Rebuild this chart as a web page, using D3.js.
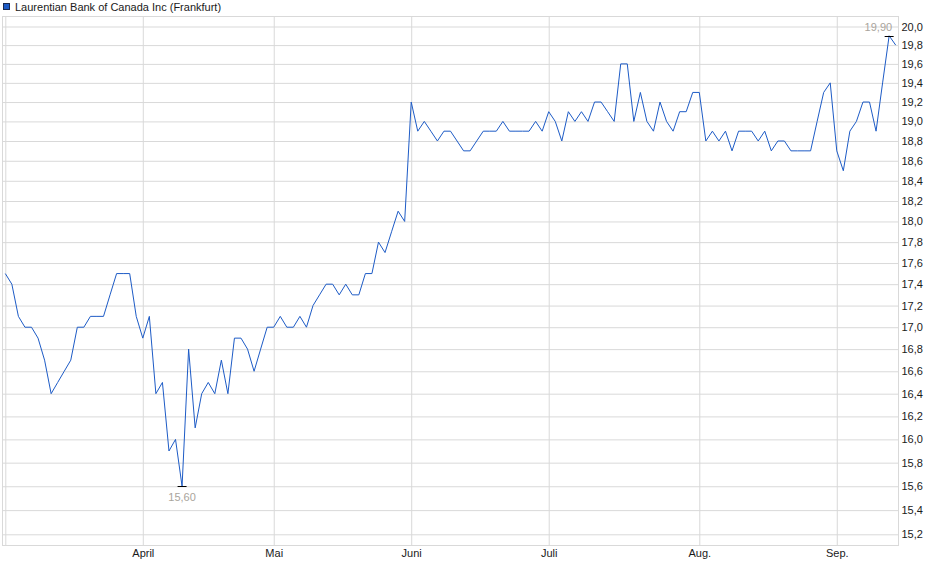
<!DOCTYPE html>
<html>
<head>
<meta charset="utf-8">
<script src="https://cdn.jsdelivr.net/npm/d3@7"></script>
<style>
  body { margin: 0; background: #fff; }
  svg { display: block; font-family: "Liberation Sans", Arial, sans-serif; }
</style>
</head>
<body>
<svg id="chart"></svg>
<script>
// Kurse (EUR) je Handelstag, Mitte März bis Mitte September
const prices = [
  17.5, 17.4, 17.1, 17.0, 17.0, 16.9, 16.7, 16.4, 16.5, 16.6,
  16.7, 17.0, 17.0, 17.1, 17.1, 17.1, 17.3, 17.5, 17.5, 17.5,
  17.1, 16.9, 17.1, 16.4, 16.5, 15.9, 16.0, 15.6, 16.8, 16.1,
  16.4, 16.5, 16.4, 16.7, 16.4, 16.9, 16.9, 16.8, 16.6, 16.8,
  17.0, 17.0, 17.1, 17.0, 17.0, 17.1, 17.0, 17.2, 17.3, 17.4,
  17.4, 17.3, 17.4, 17.3, 17.3, 17.5, 17.5, 17.8, 17.7, 17.9,
  18.1, 18.0, 19.2, 18.9, 19.0, 18.9, 18.8, 18.9, 18.9, 18.8,
  18.7, 18.7, 18.8, 18.9, 18.9, 18.9, 19.0, 18.9, 18.9, 18.9,
  18.9, 19.0, 18.9, 19.1, 19.0, 18.8, 19.1, 19.0, 19.1, 19.0,
  19.2, 19.2, 19.1, 19.0, 19.6, 19.6, 19.0, 19.3, 19.0, 18.9,
  19.2, 19.0, 18.9, 19.1, 19.1, 19.3, 19.3, 18.8, 18.9, 18.8,
  18.9, 18.7, 18.9, 18.9, 18.9, 18.8, 18.9, 18.7, 18.8, 18.8,
  18.7, 18.7, 18.7, 18.7, 19.0, 19.3, 19.4, 18.7, 18.5, 18.9,
  19.0, 19.2, 19.2, 18.9, 19.4, 19.9, 19.8
];

// erster Handelstag jedes Monats (Index in prices)
const monthIndex = [0, 21, 41, 62, 83, 106, 127];
const monthLabels = ["", "April", "Mai", "Juni", "Juli", "Aug.", "Sep."];

const yTicks = [20.0, 19.8, 19.6, 19.4, 19.2, 19.0, 18.8, 18.6, 18.4, 18.2, 18.0,
  17.8, 17.6, 17.4, 17.2, 17.0, 16.8, 16.6, 16.4, 16.2, 16.0, 15.8, 15.6, 15.4, 15.2];

const title = "Laurentian Bank of Canada Inc (Frankfurt)";

const width = 940, height = 579;
const plot = { left: 2.5, right: 898.5, top: 16.5, bottom: 545.5 };
const gridColor = "#d9d9d9";
const lineColor = "#1d5bc6";
const fmt = v => d3.format(".1f")(v).replace(".", ",");
const fmt2 = v => d3.format(".2f")(v).replace(".", ",");

const svg = d3.select("#chart").attr("width", width).attr("height", height);

const x = d3.scaleLinear()
  .domain([0, prices.length - 1])
  .range([5.3, 895.7]);

// logarithmische Kursachse
const y = d3.scaleLog()
  .domain([15.2, 20.0])
  .range([534.3, 26.5]);

// Rahmen
svg.append("rect")
  .attr("x", plot.left).attr("y", plot.top)
  .attr("width", plot.right - plot.left).attr("height", plot.bottom - plot.top)
  .attr("fill", "none").attr("stroke", gridColor);

// y-Achse rechts mit Gitter
const yAxis = svg.append("g")
  .attr("transform", `translate(${plot.right},0)`)
  .call(d3.axisRight(y)
    .tickValues(yTicks)
    .tickSize(-(plot.right - plot.left))
    .tickPadding(3)
    .tickFormat(fmt));
yAxis.select(".domain").remove();
yAxis.selectAll(".tick line").attr("stroke", gridColor);
yAxis.selectAll(".tick text")
  .attr("fill", "#1a1a1a")
  .style("font-size", "11px")
  .style("font-family", '"Liberation Sans", Arial, sans-serif');

// x-Achse mit Monatslinien
const xAxis = svg.append("g")
  .attr("transform", `translate(0,${plot.bottom})`)
  .call(d3.axisBottom(x)
    .tickValues(monthIndex)
    .tickSize(-(plot.bottom - plot.top))
    .tickPadding(4)
    .tickFormat((d, i) => monthLabels[i]));
xAxis.select(".domain").remove();
xAxis.selectAll(".tick line").attr("stroke", gridColor);
xAxis.selectAll(".tick text")
  .attr("fill", "#1a1a1a")
  .style("font-size", "11px")
  .style("font-family", '"Liberation Sans", Arial, sans-serif');

// Kurslinie
const line = d3.line()
  .x((d, i) => x(i))
  .y(d => y(d));

svg.append("path")
  .datum(prices)
  .attr("fill", "none")
  .attr("stroke", lineColor)
  .attr("stroke-width", 1)
  .attr("d", line);

// Tief- und Hochpunkt
const minVal = d3.min(prices), maxVal = d3.max(prices);
const minIdx = prices.indexOf(minVal), maxIdx = prices.indexOf(maxVal);

svg.append("line")
  .attr("x1", x(minIdx) - 4.5).attr("x2", x(minIdx) + 4.5)
  .attr("y1", Math.round(y(minVal)) + 0.5).attr("y2", Math.round(y(minVal)) + 0.5)
  .attr("stroke", "#000");
svg.append("text")
  .attr("x", x(minIdx)).attr("y", y(minVal) + 15)
  .attr("text-anchor", "middle")
  .attr("fill", "#a9a49c")
  .style("font-size", "11px")
  .text(fmt2(minVal));

svg.append("line")
  .attr("x1", x(maxIdx) - 4.5).attr("x2", x(maxIdx) + 4.5)
  .attr("y1", Math.round(y(maxVal)) + 0.5).attr("y2", Math.round(y(maxVal)) + 0.5)
  .attr("stroke", "#000");
svg.append("text")
  .attr("x", x(maxIdx) + 3).attr("y", y(maxVal) - 4.5)
  .attr("text-anchor", "end")
  .attr("fill", "#a9a49c")
  .style("font-size", "11px")
  .text(fmt2(maxVal));

// Legende
svg.append("rect")
  .attr("x", 3.5).attr("y", 3.5).attr("width", 6).attr("height", 6)
  .attr("fill", lineColor).attr("stroke", "#1a2a50");
svg.append("text")
  .attr("x", 15).attr("y", 10.5)
  .attr("fill", "#1a1a1a")
  .style("font-size", "11px")
  .text(title);
</script>
</body>
</html>
